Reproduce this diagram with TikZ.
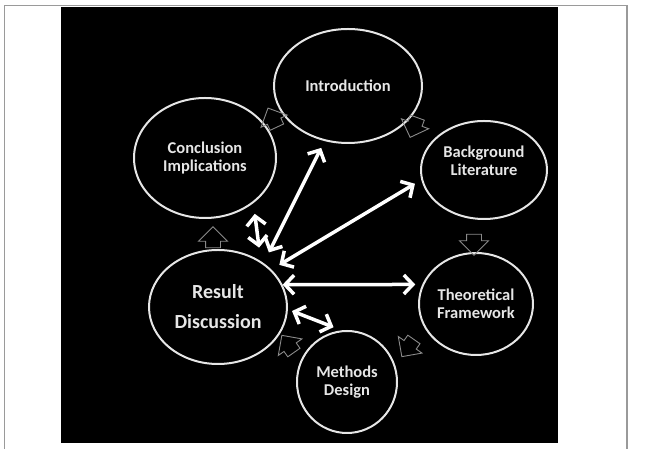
\documentclass[tikz,border=0pt]{standalone}
\usepackage{fontspec}
\setmainfont{Carlito}
\usepackage{tikz}
\usetikzlibrary{arrows.meta,shapes.geometric,shapes.arrows}
\definecolor{ringcol}{HTML}{E6E6E6}
\definecolor{cyccol}{HTML}{8A8A8A}
\definecolor{framecol}{HTML}{9A9A9A}
\tikzset{x=1pt,y=1pt,
  phase/.style={ellipse,draw=ringcol,line width=2pt,text=ringcol,align=center,inner sep=0pt,font=\fontsize{16.5}{18}\selectfont\bfseries},
  link/.style={draw=white,line width=3.5pt,{Straight Barb[length=9pt,width=19pt]}-{Straight Barb[length=9pt,width=19pt]}},
  cycarrow/.style={single arrow,draw=cyccol,line width=0.9pt,inner xsep=0pt,inner ysep=7pt,minimum height=21pt,single arrow head extend=7pt}
}

\begin{document}
\begin{tikzpicture}
\useasboundingbox (0,0) rectangle (649,449);
\fill[white] (0,0) rectangle (649,449);
\fill[black] (61,6) rectangle (558,442);
\draw[framecol,line width=1.5pt] (4.5,0) -- (4.5,443.5) -- (627,443.5) -- (627,0);

\node[phase,minimum width=148pt,minimum height=114pt] (intro) at (348,363) {Introduction};
\node[phase,minimum width=142pt,minimum height=120pt] (concl) at (205,291) {Conclusion\\Implications};
\node[phase,minimum width=126pt,minimum height=98pt] (back) at (484,279) {Background\\Literature\\\mbox{}};
\node[phase,minimum width=114pt,minimum height=102pt] (theo) at (476,145) {Theoretical\\Framework};
\node[phase,minimum width=100pt,minimum height=102pt] (meth) at (347,67) {Methods\\Design};
\node[phase,minimum width=138pt,minimum height=114pt,font=\fontsize{20}{30}\selectfont\bfseries] (res) at (218,142) {Result\\Discussion};

\node[cycarrow,rotate=90] (c1) at (213,208) {};
\node[cycarrow,rotate=115] (c2) at (274,328) {};
\node[cycarrow,rotate=250] (c3) at (415,325) {};
\node[cycarrow,rotate=270] (c4) at (474,208) {};
\node[cycarrow,rotate=235] (c5) at (410,104) {};
\node[cycarrow,rotate=125] (c6) at (290,102) {};

\draw[link,shorten <=11.8pt,shorten >=7.6pt] (res.44.3) -- (intro.247.5);
\draw[link,shorten <=9.2pt,shorten >=7.4pt] (res.35.6) -- (back.189.5);
\draw[link,shorten >=7pt] (res.19) -- (theo.160.2);
\draw[link,shorten <=4.4pt,shorten >=8.6pt] (res.358.9) -- (meth.96.9);
\draw[link,shorten <=13.6pt,shorten >=10.8pt] (res.47.6) -- (concl.317.2);
\end{tikzpicture}
\end{document}
